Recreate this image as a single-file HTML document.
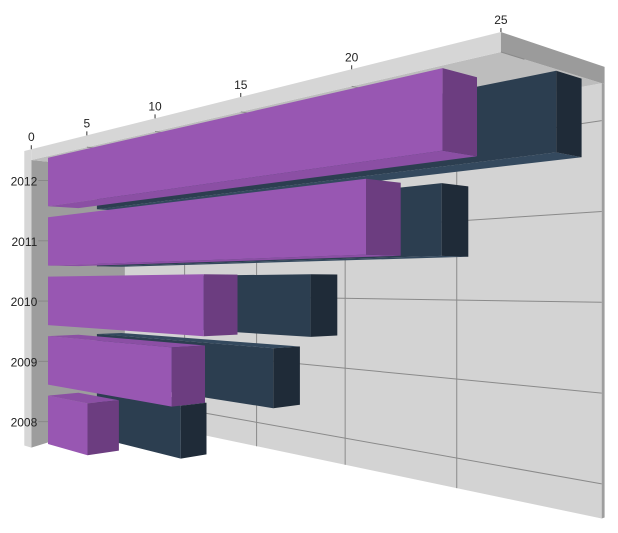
<!DOCTYPE html>
<html><head><meta charset="utf-8"><style>
html,body{margin:0;padding:0;background:#fff;width:618px;height:533px;overflow:hidden}
svg text{font-family:"Liberation Sans",sans-serif;font-size:12px;fill:#222}
</style></head><body>
<svg id="chart" width="618" height="533" viewBox="0 0 618 533" xmlns="http://www.w3.org/2000/svg"></svg>
<script>
const categories = ["2008","2009","2010","2011","2012"];
const seriesFront = [3.6, 9.9, 11.9, 19.8, 22.6];
const seriesBack = [6.9, 12.8, 14.8, 20.6, 24.5];
const valueTicks = [0, 5, 10, 15, 20, 25];
const axisMax = 25;

const NS = "http://www.w3.org/2000/svg";
const svg = document.getElementById("chart");
const cx = 309, cy = 285, f = 881, Ox = -296.3, Oz = 1000;
const SC = 17.05, SS = 18.28, SA = 0.7313, CA = 0.682;
function P(v, Y, t) {
  const X = Ox + v * SC + t * SA, Z = Oz - v * SS + t * CA;
  return [cx + f * X / Z, cy + f * Y / Z];
}
function catY(i) { return 153 - 67.5 * i; }
const WT = -140, WB = 162, T0 = -20, TB = 100;
function poly(pts, fill, name) {
  const p = document.createElementNS(NS, "polygon");
  p.setAttribute("points", pts.map(q => q[0].toFixed(1) + "," + q[1].toFixed(1)).join(" "));
  p.setAttribute("fill", fill);
  
  
  svg.appendChild(p);
  return p;
}
function line(a, b, stroke, name, w) {
  const l = document.createElementNS(NS, "line");
  l.setAttribute("x1", a[0]); l.setAttribute("y1", a[1]);
  l.setAttribute("x2", b[0]); l.setAttribute("y2", b[1]);
  l.setAttribute("stroke", stroke); l.setAttribute("stroke-width", w || 1);
  
  
  svg.appendChild(l);
}
function text(x, y, s, anchor, name) {
  const t = document.createElementNS(NS, "text");
  t.setAttribute("x", x); t.setAttribute("y", y);
  t.setAttribute("text-anchor", anchor);
  t.textContent = s;
  
  
  svg.appendChild(t);
}
// back wall
poly([P(0,WT,TB),P(axisMax,WT,TB),P(axisMax,WB,TB),P(0,WB,TB)], "#d3d3d3", "back-wall");
poly([P(axisMax,WT,TB),P(axisMax,WT,TB+4),P(axisMax,WB,TB+4),P(axisMax,WB,TB)], "#9e9e9e", "back-wall-edge");
// grid
valueTicks.forEach(v => { if (v > 0 && v < axisMax) line(P(v,WT,TB), P(v,WB,TB), "#8a8a8a", "gridline-vertical"); });
for (let k = 0; k < 5; k++) {
  const Y = WT + 26 + 63 * k;
  line(P(0,Y,TB), P(axisMax,Y,TB), "#8a8a8a", "gridline-horizontal");
}
// left wall
poly([P(0,WT,T0),P(0,WT,TB),P(0,WB,TB),P(0,WB+20,T0)], "#9d9d9d", "left-wall");
poly([P(-0.7,WT-12,T0),P(0,WT-12,T0),P(0,WB+20,T0),P(-0.7,WB+20,T0)], "#d6d6d6", "left-wall-front");
// top slab
poly([P(0,WT,T0),P(axisMax,WT,T0),P(axisMax,WT,TB),P(0,WT,TB)], "#bdbdbd", "top-slab-bottom");
poly([P(0,WT-12,T0),P(axisMax,WT-12,T0),P(axisMax,WT,T0),P(0,WT,T0)], "#d6d6d6", "top-slab-front");
poly([P(axisMax,WT-12,T0),P(axisMax,WT-12,TB+4),P(axisMax,WT,TB+4),P(axisMax,WT,T0)], "#9b9b9b", "top-slab-end");
valueTicks.forEach(v => {
  const a = P(v, WT-12, T0);
  line([a[0], a[1]], [a[0], a[1]-4], "#333", "value-tick");
  text(a[0], a[1]-8, String(v), "middle", "value-tick-label");
  const b = P(v, WT, T0), c = P(v, WT, T0+25);
  if (v > 0) line(b, c, "#8a8a8a", "slab-gridline");
});
// category labels
categories.forEach((c, i) => {
  const a = P(0, catY(i), T0);
  line([a[0]+7, a[1]], [a[0]+17, a[1]], "#888", "category-tick");
  text(a[0]+6, a[1]+5, c, "end", "category-label");
});
function bar(i, v, t0, t1, cols, name) {
  const Y0 = catY(i) - 27.5, Y1 = catY(i) + 27.5;
  if (Y0 > 0) poly([P(0,Y0,t0),P(v,Y0,t0),P(v,Y0,t1),P(0,Y0,t1)], cols[2], name + "-top");
  if (Y1 < 0) poly([P(0,Y1,t0),P(v,Y1,t0),P(v,Y1,t1),P(0,Y1,t1)], cols[2], name + "-bottom");
  poly([P(0,Y0,t0),P(v,Y0,t0),P(v,Y1,t0),P(0,Y1,t0)], cols[0], name);
  poly([P(v,Y0,t0),P(v,Y0,t1),P(v,Y1,t1),P(v,Y1,t0)], cols[1], name + "-end");
}
const darkCols = ["#2c3e50", "#1f2b38", "#34495e"];
const purpleCols = ["#9857b2", "#6c3d80", "#8b4fa4"];
seriesBack.forEach((v, i) => bar(i, v, 62, 95, darkCols, "bar-back-" + categories[i]));
seriesFront.forEach((v, i) => bar(i, v, 0, 38, purpleCols, "bar-front-" + categories[i]));
</script>
</body></html>
